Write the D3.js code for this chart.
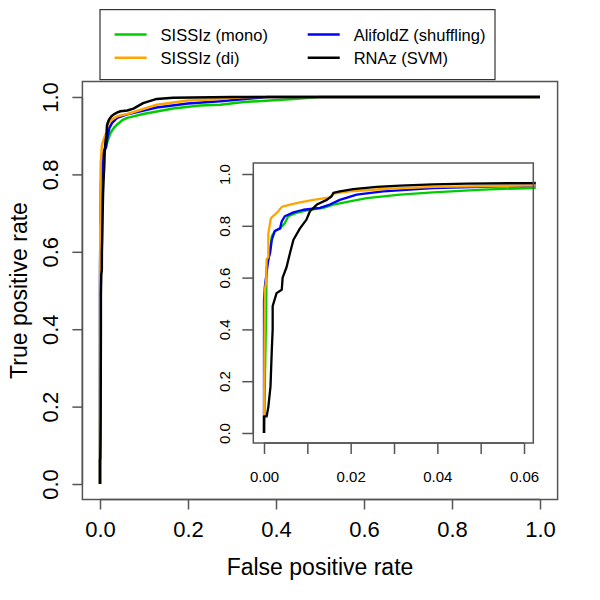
<!DOCTYPE html>
<html><head><meta charset="utf-8">
<script src="https://cdn.jsdelivr.net/npm/d3@7"></script>
<style>body{margin:0;background:#fff}svg{display:block}text{font-family:"Liberation Sans",Arial,Helvetica,sans-serif}</style>
</head><body>
<svg id="c" width="600" height="600"></svg>
<script>
const seriesNames = ["SISSIz (mono)", "SISSIz (di)", "AlifoldZ (shuffling)", "RNAz (SVM)"];
const seriesColors = ["#00CD00", "#FFA500", "#0000FF", "#000000"];
const legendOrder = [0, 1, 2, 3];

const greenFPR = [0,0.0002,0.0005,0.0006,0.001,0.0014,0.0018,0.0025,0.0037,0.0048,0.0056,0.0075,0.0106,0.0137,0.016,0.0198,0.0237,0.0314,0.039,0.0506,0.062,0.098,0.166,0.227,0.273,0.327,0.44,0.5,1];
const greenTPR = [0,0.19,0.476,0.64,0.67,0.708,0.76,0.78,0.79,0.81,0.837,0.85,0.862,0.869,0.882,0.894,0.907,0.92,0.929,0.94,0.946,0.956,0.97,0.978,0.98,0.987,0.995,1,1];

const orangeFPR = [0,0,0.0002,0.0005,0.0006,0.001,0.001,0.0013,0.0016,0.0025,0.0033,0.0041,0.006,0.0083,0.0114,0.0152,0.016,0.0198,0.0275,0.039,0.062,0.129,0.2,0.273,0.3,0.35,1];
const orangeTPR = [0,0.07,0.553,0.586,0.67,0.68,0.77,0.8,0.83,0.843,0.856,0.873,0.882,0.89,0.9,0.91,0.924,0.933,0.942,0.95,0.956,0.98,0.991,0.995,0.998,1,1];

const blueFPR = [0,0,0.0002,0.0006,0.001,0.0014,0.0018,0.0025,0.0037,0.0041,0.0048,0.0068,0.0091,0.0129,0.0152,0.0175,0.0214,0.0275,0.039,0.062,0.129,0.2,0.273,0.33,0.38,1];
const blueTPR = [0,0.515,0.566,0.618,0.67,0.695,0.746,0.78,0.79,0.817,0.837,0.852,0.862,0.869,0.882,0.9,0.92,0.933,0.946,0.955,0.973,0.983,0.989,0.995,1,1];

const blackFPR = [0,0,0.0006,0.001,0.0015,0.0018,0.002,0.002,0.0029,0.0041,0.0043,0.0052,0.006,0.0068,0.0083,0.0098,0.0106,0.0122,0.0145,0.0156,0.016,0.0175,0.0206,0.026,0.0314,0.039,0.0468,0.062,0.076,0.098,0.129,0.166,0.3,1];
const blackTPR = [0,0.064,0.064,0.1,0.18,0.32,0.4,0.49,0.54,0.553,0.6,0.64,0.695,0.746,0.79,0.824,0.856,0.882,0.9,0.914,0.927,0.933,0.942,0.95,0.955,0.96,0.963,0.965,0.97,0.984,0.995,0.998,1,1];

const mainTicks = [0, 0.2, 0.4, 0.6, 0.8, 1.0];
const insetXTicks = [0, 0.01, 0.02, 0.03, 0.04, 0.05, 0.06];
const insetXLabels = ["0.00", "", "0.02", "", "0.04", "", "0.06"];
const insetYTicks = [0, 0.2, 0.4, 0.6, 0.8, 1.0];

const series = [
  {fpr: greenFPR, tpr: greenTPR},
  {fpr: orangeFPR, tpr: orangeTPR},
  {fpr: blueFPR, tpr: blueTPR},
  {fpr: blackFPR, tpr: blackTPR}
].map((s, i) => ({name: seriesNames[i], color: seriesColors[i], pts: s.fpr.map((f, j) => [f, s.tpr[j]])}));
const drawOrder = [0, 2, 1, 3];

const svg = d3.select("#c");
const frameCol = "#555";

// Main plot
const mx = d3.scaleLinear().domain([-0.04, 1.04]).range([82.4, 557.6]);
const my = d3.scaleLinear().domain([-0.04, 1.04]).range([499.5, 81.5]);

const gMain = svg.append("g");
gMain.append("clipPath").attr("id", "clipMain").append("rect")
  .attr("x", mx.range()[0]).attr("y", my.range()[1])
  .attr("width", mx.range()[1] - mx.range()[0]).attr("height", my.range()[0] - my.range()[1]);
const lineMain = d3.line().x(d => mx(d[0])).y(d => my(d[1]));
drawOrder.forEach(i => {
  gMain.append("path").attr("clip-path", "url(#clipMain)")
    .attr("d", lineMain(series[i].pts)).attr("fill", "none")
    .attr("stroke", series[i].color).attr("stroke-width", 2.5).attr("stroke-linejoin", "round");
});
gMain.append("rect").attr("x", mx.range()[0]).attr("y", my.range()[1])
  .attr("width", mx.range()[1] - mx.range()[0]).attr("height", my.range()[0] - my.range()[1])
  .attr("fill", "none").attr("stroke", frameCol).attr("stroke-width", 1.5);

const xAx = gMain.append("g").attr("transform", `translate(0,${my.range()[0]})`)
  .call(d3.axisBottom(mx).tickValues(mainTicks).tickSize(10).tickPadding(0).tickFormat(d3.format(".1f")));
xAx.select(".domain").attr("d", `M${mx(0)},0H${mx(1)}`).attr("stroke", frameCol).attr("stroke-width", 1.5);
xAx.selectAll(".tick line").attr("stroke", frameCol).attr("stroke-width", 1.5);
xAx.selectAll(".tick text").attr("fill", "#000").attr("font-size", 22).attr("y", 0).attr("dy", null)
  .attr("transform", "translate(0,37.5)");

const yAx = gMain.append("g").attr("transform", `translate(${mx.range()[0]},0)`)
  .call(d3.axisLeft(my).tickValues(mainTicks).tickSize(10).tickPadding(0).tickFormat(d3.format(".1f")));
yAx.select(".domain").attr("d", `M0,${my(0)}V${my(1)}`).attr("stroke", frameCol).attr("stroke-width", 1.5);
yAx.selectAll(".tick line").attr("stroke", frameCol).attr("stroke-width", 1.5);
yAx.selectAll(".tick text").attr("fill", "#000").attr("font-size", 22)
  .attr("x", null).attr("dy", null).attr("text-anchor", "middle")
  .attr("transform", "translate(-24.5,0) rotate(-90)");

svg.append("text").attr("x", 320).attr("y", 575).attr("text-anchor", "middle")
  .attr("font-size", 23).text("False positive rate");
svg.append("text").attr("transform", "translate(27,290.5) rotate(-90)").attr("text-anchor", "middle")
  .attr("font-size", 23).text("True positive rate");

// Inset
const ix = d3.scaleLinear().domain([0, 0.02]).range([264, 350.67]);
const iy = d3.scaleLinear().domain([0, 1]).range([433, 174]);
const iL = 253.3, iR = 533.3, iT = 163, iB = 443;
const gIn = svg.append("g");
gIn.append("rect").attr("x", iL).attr("y", iT).attr("width", iR - iL).attr("height", iB - iT).attr("fill", "#fff");
gIn.append("clipPath").attr("id", "clipIn").append("rect")
  .attr("x", iL).attr("y", iT).attr("width", iR - iL + 2.5).attr("height", iB - iT);
const lineIn = d3.line().x(d => ix(d[0])).y(d => iy(d[1]));
drawOrder.forEach(i => {
  gIn.append("path").attr("clip-path", "url(#clipIn)")
    .attr("d", lineIn(series[i].pts)).attr("fill", "none")
    .attr("stroke", series[i].color).attr("stroke-width", 2.3).attr("stroke-linejoin", "round");
});
gIn.append("rect").attr("x", iL).attr("y", iT).attr("width", iR - iL).attr("height", iB - iT)
  .attr("fill", "none").attr("stroke", frameCol).attr("stroke-width", 1.5);

const ixAx = gIn.append("g").attr("transform", `translate(0,${iB})`)
  .call(d3.axisBottom(ix).tickValues(insetXTicks).tickSize(11).tickPadding(0)
    .tickFormat((d, i) => insetXLabels[i]));
ixAx.select(".domain").attr("d", `M${ix(0)},0H${ix(0.06)}`).attr("stroke", frameCol).attr("stroke-width", 1.5);
ixAx.selectAll(".tick line").attr("stroke", frameCol).attr("stroke-width", 1.5);
ixAx.selectAll(".tick text").attr("fill", "#000").attr("font-size", 15).attr("y", 0).attr("dy", null)
  .attr("transform", "translate(0,39)");

const iyAx = gIn.append("g").attr("transform", `translate(${iL},0)`)
  .call(d3.axisLeft(iy).tickValues(insetYTicks).tickSize(11).tickPadding(0).tickFormat(d3.format(".1f")));
iyAx.select(".domain").attr("d", `M0,${iy(0)}V${iy(1)}`).attr("stroke", frameCol).attr("stroke-width", 1.5);
iyAx.selectAll(".tick line").attr("stroke", frameCol).attr("stroke-width", 1.5);
iyAx.selectAll(".tick text").attr("fill", "#000").attr("font-size", 15)
  .attr("x", null).attr("dy", null).attr("text-anchor", "middle")
  .attr("transform", "translate(-23,0) rotate(-90)");

// Legend
const lg = svg.append("g");
lg.append("rect").attr("x", 100).attr("y", 9.6).attr("width", 395).attr("height", 70)
  .attr("fill", "#fff").attr("stroke", "#333").attr("stroke-width", 1.2);
const lgPos = [[114.6, 34.6], [114.6, 57.7], [307.7, 34.6], [307.7, 57.7]];
legendOrder.forEach((si, k) => {
  const [x0, y0] = lgPos[k];
  lg.append("line").attr("x1", x0).attr("x2", x0 + 32).attr("y1", y0).attr("y2", y0)
    .attr("stroke", series[si].color).attr("stroke-width", 2.5);
  lg.append("text").attr("x", x0 + 46).attr("y", y0 + 6).attr("font-size", 16.5).text(series[si].name);
});
</script>
</body></html>
